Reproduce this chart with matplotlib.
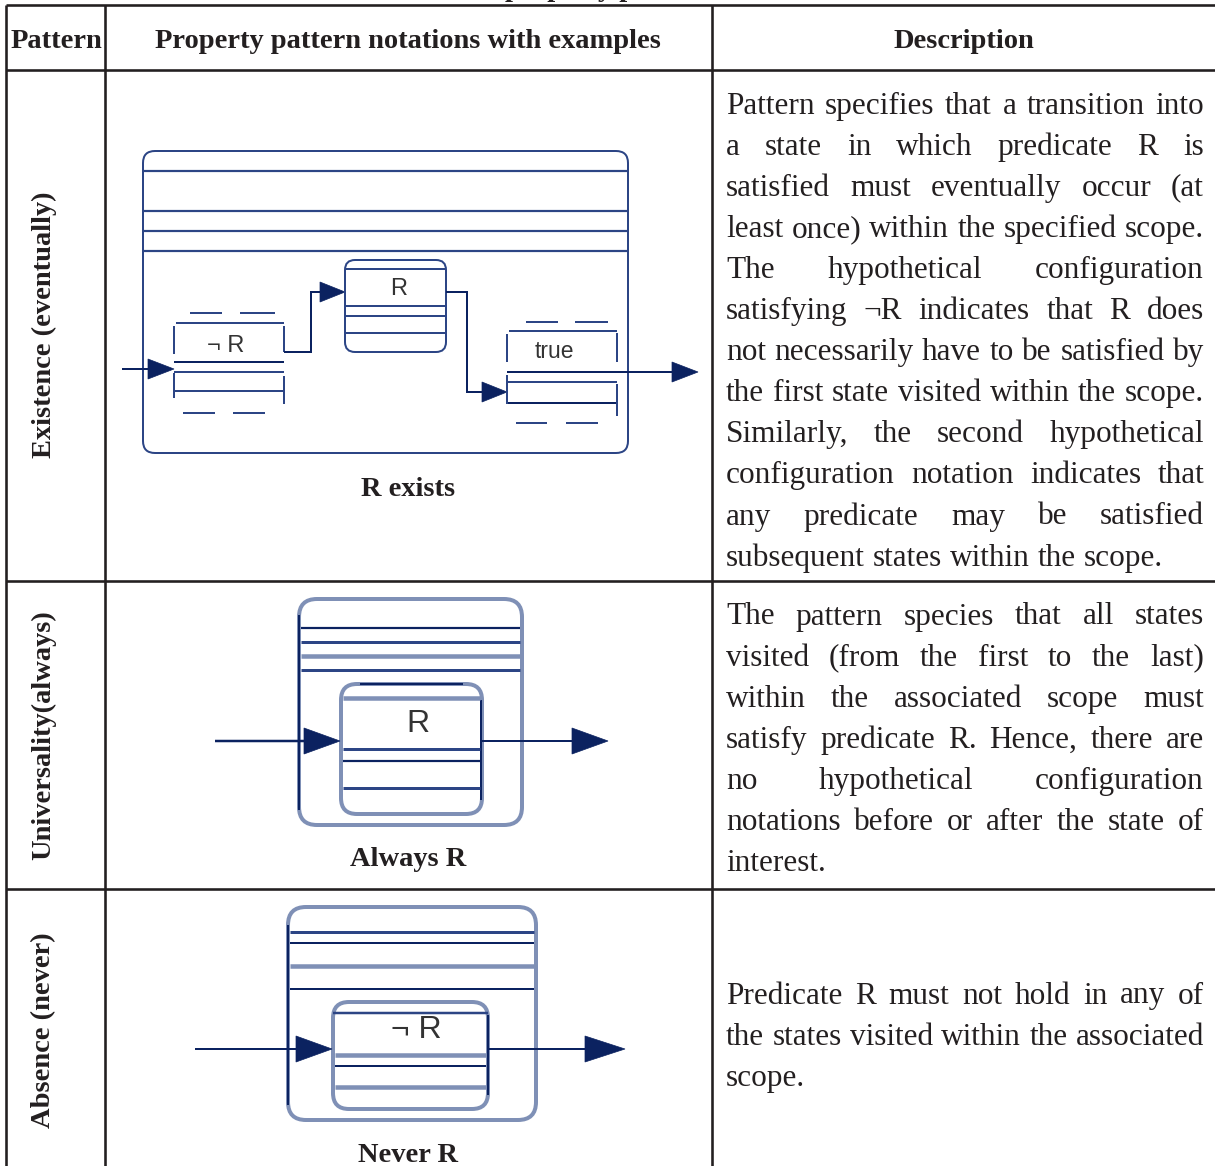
import matplotlib
matplotlib.use("Agg")
import matplotlib.pyplot as plt
from matplotlib.patches import FancyBboxPatch, Polygon

# ---------------- data (texts) ----------------
headers = ["Pattern", "Property pattern notations with examples", "Description"]
row_labels = ["Existence (eventually)", "Universality(always)", "Absence (never)"]
captions = ["R exists", "Always R", "Never R"]
title_fragment = "property pattern"
desc_row1 = [
    "Pattern specifies that a transition into",
    "a state in which predicate R is",
    "satisfied must eventually occur (at",
    "least once) within the specified scope.",
    "The hypothetical configuration",
    "satisfying \u00acR indicates that R does",
    "not necessarily have to be satisfied by",
    "the first state visited within the scope.",
    "Similarly, the second hypothetical",
    "configuration notation indicates that",
    "any predicate may be satisfied",
    "subsequent states within the scope.",
]
desc_row2 = [
    "The pattern species that all states",
    "visited (from the first to the last)",
    "within the associated scope must",
    "satisfy predicate R. Hence, there are",
    "no hypothetical configuration",
    "notations before or after the state of",
    "interest.",
]
desc_row3 = [
    "Predicate R must not hold in any of",
    "the states visited within the associated",
    "scope.",
]
descriptions = [desc_row1, desc_row2, desc_row3]
state_labels = ["\u00ac R", "R", "true", "R", "\u00ac R"]

# ---------------- layout / style ----------------
W, H = 1215, 1166
fig = plt.figure(figsize=(W / 100, H / 100), dpi=100)
ax = fig.add_axes([0, 0, 1, 1])
ax.set_xlim(0, W)
ax.set_ylim(H, 0)
ax.axis("off")

PX = 0.72  # points per pixel at dpi 100
SERIF = "Liberation Serif"
SANS = "Liberation Sans"
TXT = "#231f20"
NAVY = "#0b2260"
MID = "#2c4585"
LIGHT = "#7f90b6"
BOLD_FS = 20.5

# ---------- table grid ----------
grid_lw = 2.6 * PX
xl, xc1, xc2, xr = 6, 105, 712, 1215
y_top, y_head, y_r1, y_r2 = 5, 70, 581, 889
for y in [y_top, y_head, y_r1, y_r2]:
    ax.plot([xl, xr], [y, y], color=TXT, lw=grid_lw, solid_capstyle="butt")
for x in [xl, xc1, xc2]:
    ax.plot([x, x], [y_top, H], color=TXT, lw=grid_lw, solid_capstyle="butt")

# clipped title fragment above the table (only descenders show)
ax.text(505, -3.5, title_fragment, fontsize=BOLD_FS, family=SERIF, weight="bold",
        color=TXT, ha="left", va="baseline", clip_on=True)

# headers
head_x = [56, 408, 964]
for hx, ht in zip(head_x, headers):
    ax.text(hx, 41, ht, fontsize=BOLD_FS, family=SERIF, weight="bold", color=TXT,
            ha="center", va="center")

# row labels (rotated)
label_y = [325, 735, 1030]
for ly, lt in zip(label_y, row_labels):
    ax.text(44, ly, lt, fontsize=BOLD_FS, family=SERIF, weight="bold", color=TXT,
            ha="center", va="center", rotation=90)

# captions
cap_y = [490, 860, 1155]
for cy, ct in zip(cap_y, captions):
    ax.text(408, cy, ct, fontsize=BOLD_FS, family=SERIF, weight="bold", color=TXT,
            ha="center", va="center")

# ---------- justified descriptions ----------
renderer = fig.canvas.get_renderer()
x0, x1 = 726, 1204


def text_width(s, fs):
    t = ax.text(0, 0, s, fontsize=fs, family=SERIF)
    w = t.get_window_extent(renderer).width
    t.remove()
    return w


# fit the font so that the widest full line just fills the column
base = 20.0
widest = max(text_width(l, base) for p in descriptions for l in p[:-1])
DESC_FS = base * (x1 - x0 - 2) / widest
space_w = text_width("a a", DESC_FS) - text_width("aa", DESC_FS)

desc_y0 = [106, 617, 996]
line_h = 41.1
for para, y0 in zip(descriptions, desc_y0):
    for i, line in enumerate(para):
        y = y0 + i * line_h
        words = line.split(" ")
        widths = [text_width(w, DESC_FS) for w in words]
        last = i == len(para) - 1
        if last or len(words) == 1:
            gap = space_w
        else:
            gap = (x1 - x0 - sum(widths)) / (len(words) - 1)
        x = x0
        for w, ww in zip(words, widths):
            ax.text(x, y, w, fontsize=DESC_FS, family=SERIF, color=TXT,
                    ha="left", va="center")
            x += ww + gap


# ---------- diagram helpers ----------
def seg(xs, ys, color=MID, lw=2.0):
    ax.plot(xs, ys, color=color, lw=lw * PX, solid_capstyle="butt",
            solid_joinstyle="miter")


def rbox(x, y, w, h, r, color=MID, lw=2.0):
    ax.add_patch(FancyBboxPatch((x, y), w, h,
                                boxstyle=f"round,pad=0,rounding_size={r}",
                                fill=False, edgecolor=color, lw=lw * PX))


def arrow_head(tx, ty, L, h, color=NAVY):
    ax.add_patch(Polygon([[tx, ty], [tx - L, ty - h], [tx - L, ty + h]],
                         closed=True, facecolor=color, edgecolor=color, lw=0.5))


# ---------- Existence diagram ----------
rbox(143, 151, 485, 302, 12, color=MID, lw=2.0)
for y in [171, 211, 231, 251]:
    seg([143, 628], [y, y], color=MID, lw=2.2)

# entry arrow
seg([122, 150], [369, 369], color=NAVY, lw=2.0)
arrow_head(174, 369, 26, 10)

# hypothetical box ¬R
hb = MID
seg([190, 222], [313, 313], hb); seg([240, 275], [313, 313], hb)
seg([176, 284], [323, 323], hb)
seg([174, 174], [326, 354], hb)
seg([284, 284], [326, 352], hb)
seg([174, 284], [362, 362], NAVY)
seg([174, 284], [372, 372], hb)
seg([174, 284], [391, 391], hb)
seg([174, 174], [373, 398], hb)
seg([284, 284], [376, 404], hb)
seg([183, 215], [413, 413], hb); seg([233, 265], [413, 413], hb)
ax.text(226, 346, state_labels[0], fontsize=17, family=SANS, color="#333333",
        ha="center", va="center")

# connector ¬R -> R
seg([284, 311, 311, 322], [352, 352, 292, 292], NAVY)
arrow_head(345, 292, 25, 10)

# R state
rbox(345, 260, 101, 92, 10, color=MID, lw=2.0)
for y in [269, 306, 316, 333]:
    seg([345, 446], [y, y], MID)
ax.text(399, 289, state_labels[1], fontsize=17, family=SANS, color="#333333",
        ha="center", va="center")

# connector R -> true
seg([446, 467, 467, 484], [292, 292, 392, 392], NAVY)
arrow_head(507, 392, 25, 10)

# hypothetical box true
seg([526, 558], [322, 322], hb); seg([575, 608], [322, 322], hb)
seg([509, 617], [331, 331], hb)
seg([507, 507], [334, 362], hb)
seg([617, 617], [333, 362], hb)
seg([507, 617], [382, 382], hb)
seg([507, 617], [403, 403], NAVY)
seg([507, 507], [375, 404], hb)
seg([617, 617], [384, 416], hb)
seg([516, 547], [423, 423], hb); seg([566, 598], [423, 423], hb)
ax.text(554, 352, state_labels[2], fontsize=16.5, family=SANS, color="#333333",
        ha="center", va="center")
# exit arrow
seg([507, 675], [372, 372], NAVY)
arrow_head(698, 372, 26, 10)

# ---------- Universality diagram ----------
rbox(299, 599, 223, 226, 18, color=LIGHT, lw=4.0)
seg([299, 299], [615, 810], NAVY, 2.0)
seg([301, 520], [628, 628], NAVY, 2.2)
seg([301, 520], [642, 642], MID, 3.0)
seg([301, 520], [656, 656], LIGHT, 4.5)
seg([301, 520], [670, 670], MID, 3.0)
rbox(341, 684, 141, 130, 16, color=LIGHT, lw=4.0)
seg([360, 463], [684, 684], NAVY, 2.0)
seg([481, 481], [700, 800], NAVY, 2.0)
seg([343, 480], [698, 698], LIGHT, 4.5)
seg([343, 480], [749, 749], MID, 3.0)
seg([343, 480], [761, 761], NAVY, 2.2)
seg([343, 480], [788, 788], MID, 3.0)
ax.text(418, 724, state_labels[3], fontsize=23, family=SANS, color="#333333",
        ha="center", va="center")
seg([215, 310], [741, 741], NAVY, 2.5)
arrow_head(340, 741, 36, 13)
seg([482, 575], [741, 741], NAVY, 2.0)
arrow_head(608, 741, 36, 13)

# ---------- Absence diagram ----------
rbox(288, 907, 248, 213, 18, color=LIGHT, lw=4.0)
seg([288, 288], [925, 1105], NAVY, 2.0)
seg([290, 534], [932, 932], MID, 3.0)
seg([290, 534], [943, 943], NAVY, 2.0)
seg([290, 534], [966, 966], LIGHT, 4.5)
seg([290, 534], [989, 989], NAVY, 2.0)
rbox(333, 1002, 155, 107, 16, color=LIGHT, lw=4.0)
seg([333, 488], [1013, 1013], MID, 2.5)
seg([488, 488], [1015, 1095], NAVY, 2.0)
seg([335, 486], [1055, 1055], LIGHT, 4.5)
seg([335, 486], [1066, 1066], NAVY, 2.0)
seg([335, 486], [1087, 1087], LIGHT, 4.5)
ax.text(416, 1030, state_labels[4], fontsize=23, family=SANS, color="#333333",
        ha="center", va="center")
seg([195, 300], [1049, 1049], NAVY, 2.0)
arrow_head(332, 1049, 36, 13)
seg([488, 590], [1049, 1049], NAVY, 2.0)
arrow_head(625, 1049, 40, 13)

fig.savefig("out.png", dpi=100)
